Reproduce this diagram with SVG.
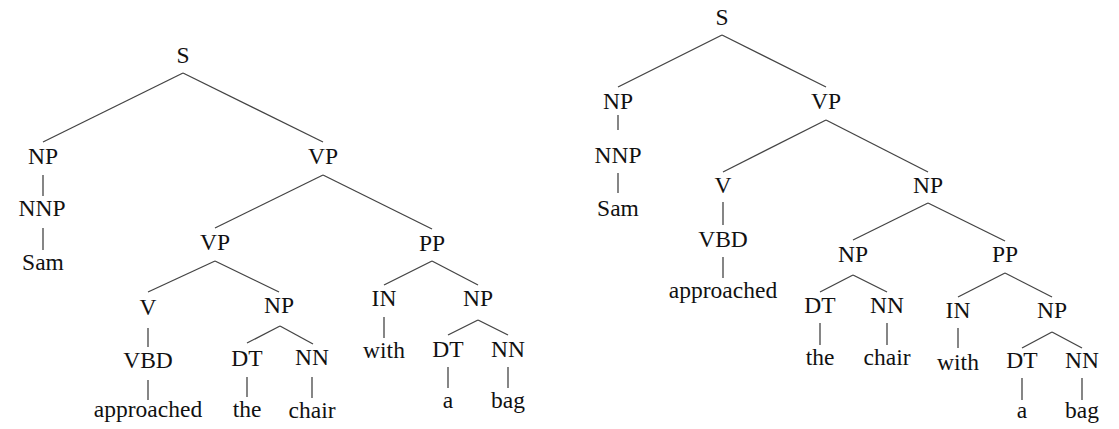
<svg xmlns="http://www.w3.org/2000/svg" width="1119" height="429" viewBox="0 0 1119 429">
<style>
text{font-family:"Liberation Serif","Times New Roman",serif;font-size:23.5px;fill:#111;text-anchor:middle}
#edges line{stroke:#444;stroke-width:1.3;fill:none}
</style>
<rect width="1119" height="429" fill="#fff"/>
<g id="edges">
<line x1="183" y1="73" x2="43" y2="142"/>
<line x1="183" y1="73" x2="323" y2="142"/>
<line x1="43" y1="175" x2="43" y2="196"/>
<line x1="43" y1="228" x2="43" y2="250"/>
<line x1="323" y1="175" x2="215" y2="228"/>
<line x1="323" y1="175" x2="432" y2="229"/>
<line x1="215" y1="261" x2="148" y2="292"/>
<line x1="215" y1="261" x2="279" y2="292"/>
<line x1="148" y1="328" x2="148" y2="347"/>
<line x1="148" y1="380" x2="148" y2="400"/>
<line x1="280" y1="326" x2="247" y2="343"/>
<line x1="280" y1="326" x2="313" y2="344"/>
<line x1="247" y1="377" x2="247" y2="397"/>
<line x1="312" y1="377" x2="312" y2="398"/>
<line x1="432" y1="261" x2="384" y2="285"/>
<line x1="432" y1="261" x2="478" y2="285"/>
<line x1="384" y1="317" x2="384" y2="338"/>
<line x1="478" y1="320" x2="448" y2="335"/>
<line x1="478" y1="320" x2="508" y2="335"/>
<line x1="448" y1="367" x2="448" y2="388"/>
<line x1="508" y1="367" x2="508" y2="388"/>
<line x1="722" y1="35" x2="618" y2="87"/>
<line x1="722" y1="35" x2="826" y2="87"/>
<line x1="618" y1="115" x2="618" y2="130"/>
<line x1="618" y1="173" x2="618" y2="193"/>
<line x1="826" y1="120" x2="723" y2="172"/>
<line x1="826" y1="120" x2="928" y2="172"/>
<line x1="723" y1="202" x2="723" y2="225"/>
<line x1="723" y1="257" x2="723" y2="278"/>
<line x1="928" y1="203" x2="853" y2="240"/>
<line x1="928" y1="203" x2="1005" y2="241"/>
<line x1="853" y1="275" x2="820" y2="292"/>
<line x1="853" y1="275" x2="887" y2="292"/>
<line x1="820" y1="323" x2="820" y2="345"/>
<line x1="887" y1="323" x2="887" y2="345"/>
<line x1="1005" y1="273" x2="958" y2="297"/>
<line x1="1005" y1="273" x2="1052" y2="297"/>
<line x1="958" y1="328" x2="958" y2="348"/>
<line x1="1052" y1="332" x2="1022" y2="348"/>
<line x1="1052" y1="332" x2="1082" y2="348"/>
<line x1="1022" y1="378" x2="1022" y2="400"/>
<line x1="1082" y1="378" x2="1082" y2="400"/>
</g>
<g id="t1-S"><text x="183" y="63">S</text></g>
<g id="t1-NP"><text x="43" y="164">NP</text></g>
<g id="t1-VP"><text x="323" y="164">VP</text></g>
<g id="t1-NNP"><text x="42" y="216">NNP</text></g>
<g id="t1-Sam"><text x="43" y="270">Sam</text></g>
<g id="t1-VP2"><text x="215" y="250">VP</text></g>
<g id="t1-PP"><text x="432" y="251">PP</text></g>
<g id="t1-V"><text x="148" y="315">V</text></g>
<g id="t1-NP2"><text x="279" y="313">NP</text></g>
<g id="t1-VBD"><text x="148" y="368">VBD</text></g>
<g id="t1-approached"><text x="148" y="417">approached</text></g>
<g id="t1-DT"><text x="247" y="366">DT</text></g>
<g id="t1-NN"><text x="312" y="365">NN</text></g>
<g id="t1-the"><text x="247" y="417">the</text></g>
<g id="t1-chair"><text x="312" y="418">chair</text></g>
<g id="t1-IN"><text x="384" y="306">IN</text></g>
<g id="t1-NP3"><text x="478" y="306">NP</text></g>
<g id="t1-with"><text x="384" y="358">with</text></g>
<g id="t1-DT2"><text x="448" y="357">DT</text></g>
<g id="t1-NN2"><text x="508" y="357">NN</text></g>
<g id="t1-a"><text x="448" y="408">a</text></g>
<g id="t1-bag"><text x="508" y="408">bag</text></g>
<g id="t2-S"><text x="722" y="25">S</text></g>
<g id="t2-NP"><text x="618" y="109">NP</text></g>
<g id="t2-VP"><text x="826" y="109">VP</text></g>
<g id="t2-NNP"><text x="618" y="163">NNP</text></g>
<g id="t2-Sam"><text x="618" y="216">Sam</text></g>
<g id="t2-V"><text x="723" y="193">V</text></g>
<g id="t2-NP1"><text x="928" y="193">NP</text></g>
<g id="t2-VBD"><text x="723" y="247">VBD</text></g>
<g id="t2-approached"><text x="723" y="298">approached</text></g>
<g id="t2-NP2"><text x="853" y="262">NP</text></g>
<g id="t2-PP"><text x="1005" y="262">PP</text></g>
<g id="t2-DT"><text x="820" y="313">DT</text></g>
<g id="t2-NN"><text x="887" y="313">NN</text></g>
<g id="t2-the"><text x="820" y="365">the</text></g>
<g id="t2-chair"><text x="887" y="365">chair</text></g>
<g id="t2-IN"><text x="958" y="318">IN</text></g>
<g id="t2-NP3"><text x="1052" y="318">NP</text></g>
<g id="t2-with"><text x="958" y="370">with</text></g>
<g id="t2-DT2"><text x="1022" y="368">DT</text></g>
<g id="t2-NN2"><text x="1082" y="368">NN</text></g>
<g id="t2-a"><text x="1022" y="418">a</text></g>
<g id="t2-bag"><text x="1082" y="418">bag</text></g>
</svg>
